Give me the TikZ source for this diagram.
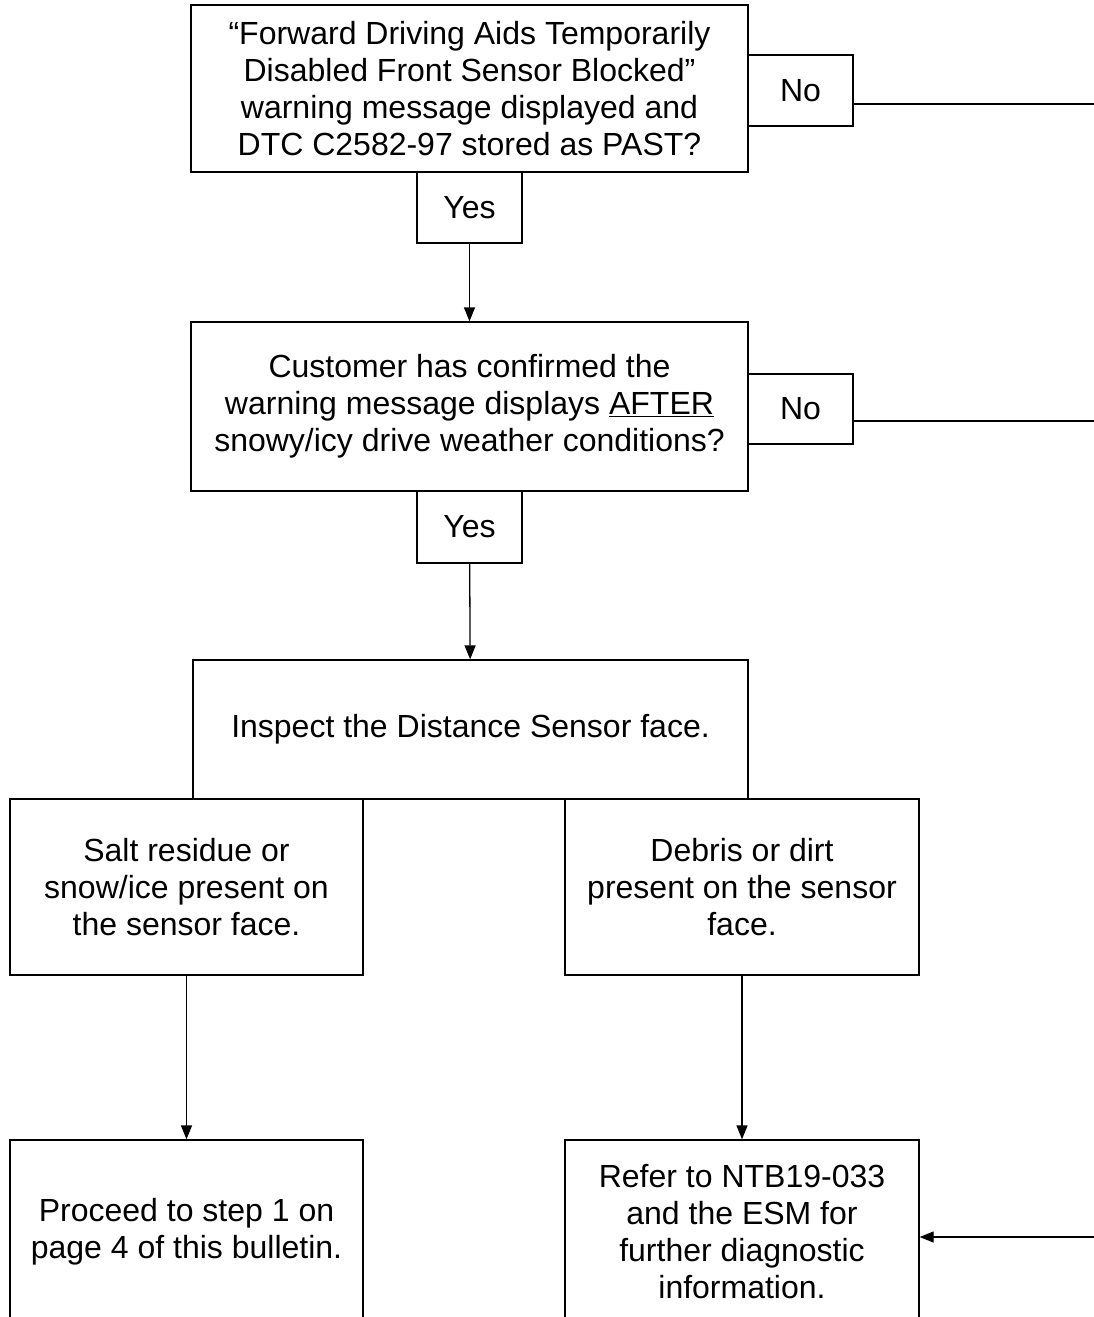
\documentclass[tikz,border=0pt]{standalone}
\usepackage{fontspec}
\setmainfont{Liberation Sans}
\usetikzlibrary{arrows.meta}
\tikzset{
     box/.style = { draw, line width=1.3pt, align=center, inner sep=0pt,
                    font=\fontsize{32}{37}\selectfont },
  answer/.style = { box, minimum width=105pt, minimum height=71pt },
    wire/.style = { line width=1.3pt },
   arrow/.style = { wire, -{Triangle[length=14pt,width=11pt]} },
}

\begin{document}
\begin{tikzpicture}[x=1pt,y=-1pt]
  \useasboundingbox (0,0) rectangle (1094,1317);
  \clip (0,0) rectangle (1094,1317);

  % questions
  \node[box, minimum width=557pt, minimum height=167pt] (q1) at (469.5,88.5)
    {“Forward Driving Aids Temporarily\\Disabled Front Sensor Blocked”\\
     warning message displayed and\\DTC C2582-97 stored as PAST?};
  \node[answer] (no1) at (800.5,90.5) {No};
  \node[answer] (yes1) at (469.5,207.5) {Yes};

  \node[box, minimum width=557pt, minimum height=169pt] (q2) at (469.5,406.5)
    {Customer has confirmed the\\warning message displays \underline{AFTER}\\
     snowy/icy drive weather conditions?};
  \node[answer, minimum height=70pt] (no2) at (800.5,409) {No};
  \node[answer, minimum height=72pt] (yes2) at (469.5,527) {Yes};

  % inspection
  \node[box, minimum width=555pt, minimum height=139pt] (inspect) at (470.5,729.5)
    {Inspect the Distance Sensor face.};
  \node[box, minimum width=353pt, minimum height=176pt] (salt) at (186.5,887)
    {Salt residue or\\snow/ice present on\\the sensor face.};
  \node[box, minimum width=354pt, minimum height=176pt] (debris) at (742,887)
    {Debris or dirt\\present on the sensor\\face.};

  % results
  \node[box, minimum width=353pt, minimum height=184pt] (proceed) at (186.5,1232)
    {Proceed to step 1 on\\page 4 of this bulletin.};
  \node[box, minimum width=354pt, minimum height=184pt] (refer) at (742,1232)
    {Refer to NTB19-033\\and the ESM for\\further diagnostic\\information.};

  \foreach \a/\b in {yes1/q2, yes2/inspect, salt/proceed, debris/refer} {
    \draw [arrow] (\a) -- (\b);
  }

  % off-page links
  \coordinate (r1) at (1094,104);
  \coordinate (r2) at (1094,421);
  \coordinate (r3) at (1094,1237);
  \draw [wire] (no1.east |- r1) -- (r1);
  \draw [wire] (no2.east |- r2) -- (r2);
  \draw [arrow] (r3) -- (r3 -| refer.east);
\end{tikzpicture}
\end{document}
